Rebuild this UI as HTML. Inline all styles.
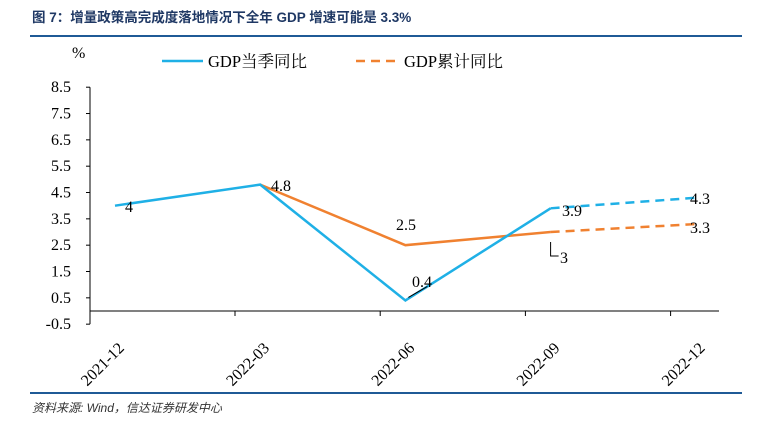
<!DOCTYPE html>
<html><head><meta charset="utf-8"><style>
body{margin:0;width:774px;height:439px;background:#fff;overflow:hidden;font-family:"Liberation Serif","Noto Serif CJK SC",serif}
</style></head><body>
<svg width="774" height="439">
<text x="32" y="22" font-family="Liberation Sans, Noto Sans CJK SC, sans-serif" font-size="13.5" font-weight="bold" fill="#1f3864">图 7：增量政策高完成度落地情况下全年 GDP 增速可能是 3.3%</text>
<line x1="30" y1="36" x2="742" y2="36" stroke="#1f5a96" stroke-width="2"/>
<text x="72" y="58" font-size="16">%</text>
<g>
<line x1="162" y1="61" x2="203" y2="61" stroke="#1fb0e6" stroke-width="2.5"/>
<text x="208" y="67" font-size="16.5">GDP当季同比</text>
<line x1="356" y1="61" x2="400" y2="61" stroke="#f08130" stroke-width="2.5" stroke-dasharray="9,6"/>
<text x="404" y="67" font-size="16.5">GDP累计同比</text>
</g>
<g id="axes"></g>
<g id="marks"></g>
<line x1="30" y1="393" x2="742" y2="393" stroke="#1f5a96" stroke-width="2"/>
<text x="32" y="412" font-size="12" font-style="italic" font-family="Liberation Sans, Noto Sans CJK SC, sans-serif" fill="#333">资料来源: Wind，信达证券研发中心</text>
</svg>
<script>
const categories=["2021-12","2022-03","2022-06","2022-09","2022-12"];
const quarterly=[4,4.8,0.4,3.9,4.3];
const cumulative=[null,4.8,2.5,3,3.3];
const yTicks=[-0.5,0.5,1.5,2.5,3.5,4.5,5.5,6.5,7.5,8.5];
const NS="http://www.w3.org/2000/svg";
const y=v=>311-v*26.33;
const x=i=>115+i*145.2;
function mk(t,a,p){const e=document.createElementNS(NS,t);for(const k in a)e.setAttribute(k,a[k]);p.appendChild(e);return e;}
const ax=document.getElementById('axes'),mg=document.getElementById('marks');
let yl=mk('line',{x1:90,y1:y(8.5),x2:90,y2:y(-0.5),stroke:'#000'},ax);


yTicks.forEach(v=>{mk('line',{x1:86,x2:90,y1:y(v),y2:y(v),stroke:'#000'},ax);
const t=mk('text',{x:71,y:y(v)+5,'font-size':16,'text-anchor':'end'},ax);t.textContent=v;

});
let xl=mk('line',{x1:90,y1:y(0),x2:719,y2:y(0),stroke:'#000'},ax);


categories.forEach((c,i)=>{const tx=x(i)+120;mk('line',{x1:tx,x2:tx,y1:y(0),y2:y(0)+5,stroke:'#000'},ax);
const t=mk('text',{x:0,y:0,'font-size':16,'text-anchor':'end',transform:`translate(${x(i)+10},${y(0)+38}) rotate(-45)`},ax);t.textContent=c;

});
function series(vals,col,name){const pts=vals.map((v,i)=>v==null?null:[x(i),y(v)]);
const solid=pts.slice(0,4).filter(p=>p);
const l=mk('polyline',{points:solid.map(p=>p.join(',')).join(' '),fill:'none',stroke:col,'stroke-width':2.5},mg);


const d=mk('line',{x1:pts[3][0],y1:pts[3][1],x2:pts[4][0],y2:pts[4][1],stroke:col,'stroke-width':2.5,'stroke-dasharray':'9,6'},mg);

}
series(cumulative,'#f08130','cumulative');
series(quarterly,'#1fb0e6','quarterly');
function lab(txt,px,py){const t=mk('text',{x:px,y:py,'font-size':16},mg);t.textContent=txt;

}
lab(quarterly[0],125,212);lab(quarterly[1],271,191);lab(quarterly[2],412,287);lab(quarterly[3],562,216);lab(quarterly[4],690,204);
lab(cumulative[2],396,230);lab(cumulative[3],560,263);lab(cumulative[4],690,233);
mk('line',{x1:x(2)+3,y1:y(quarterly[2])-3,x2:x(2)+22,y2:y(quarterly[2])-14,stroke:'#000'},mg);
mk('polyline',{points:`${x(3)},${y(cumulative[3])+10} ${x(3)},${y(cumulative[3])+24} ${x(3)+8},${y(cumulative[3])+24}`,fill:'none',stroke:'#000'},mg);
</script>
</body></html>
